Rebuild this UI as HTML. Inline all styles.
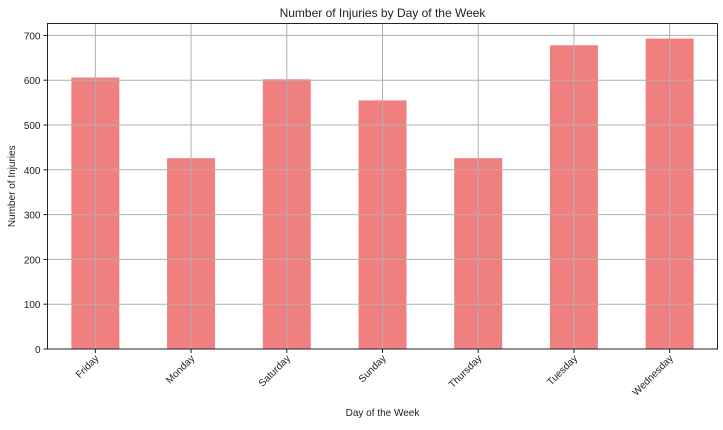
<!DOCTYPE html>
<html><head><meta charset="utf-8"><style>
body{margin:0;background:#fff;font-family:"Liberation Sans",sans-serif}
svg text{font-family:"Liberation Sans",sans-serif;fill:#222}
</style></head><body>
<svg id="c" width="723" height="425"></svg>
<script>
const categories=["Friday","Monday","Saturday","Sunday","Thursday","Tuesday","Wednesday"];
const injuries=[606,426,602,555,426,678,693];
const yTicks=[0,100,200,300,400,500,600,700];
const svg=document.getElementById('c');const NS='http://www.w3.org/2000/svg';
const L=47.5,R=717.5,T=23.5,B=349;
const x=i=>L+(R-L)/categories.length*(i+0.5);
const y=v=>B-v*0.448;
function mk(t,a,txt){const e=document.createElementNS(NS,t);for(const k in a)e.setAttribute(k,a[k]);if(txt!=null)e.textContent=txt;svg.appendChild(e);return e;}
categories.forEach((c,i)=>{
 const r=mk('rect',{x:x(i)-24,y:y(injuries[i]),width:48,height:B-y(injuries[i]),fill:'#f08080'});
 
 
});
yTicks.forEach(v=>{
 const g=mk('line',{x1:L,x2:R,y1:y(v),y2:y(v),stroke:'#b0b0b0','stroke-width':1});
 
 
 mk('line',{x1:L-4,x2:L,y1:y(v),y2:y(v),stroke:'#222'});
 const t=mk('text',{x:L-7,y:y(v)+4,'text-anchor':'end','font-size':10},v);
 
 
});
categories.forEach((c,i)=>{
 const g=mk('line',{x1:x(i),x2:x(i),y1:T,y2:B,stroke:'#b0b0b0','stroke-width':1});
 
 
 mk('line',{x1:x(i),x2:x(i),y1:B,y2:B+4,stroke:'#222'});
 const t=mk('text',{x:x(i)+4,y:B+10,'text-anchor':'end','font-size':10,transform:`rotate(-45 ${x(i)+4} ${B+10})`},c);
 
 
});
const f=mk('rect',{x:L,y:T,width:R-L,height:B-T,fill:'none',stroke:'#222','stroke-width':1});


const ti=mk('text',{x:(L+R)/2,y:17,'text-anchor':'middle','font-size':12},'Number of Injuries by Day of the Week');


const xt=mk('text',{x:(L+R)/2,y:416,'text-anchor':'middle','font-size':10},'Day of the Week');


const yt=mk('text',{x:15,y:(T+B)/2,'text-anchor':'middle','font-size':10,transform:`rotate(-90 15 ${(T+B)/2})`},'Number of Injuries');


</script>
</body></html>
